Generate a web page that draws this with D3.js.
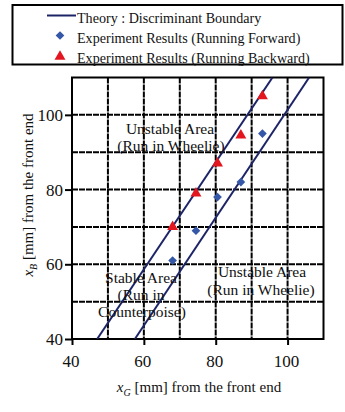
<!DOCTYPE html>
<html><head><meta charset="utf-8">
<script src="https://cdn.jsdelivr.net/npm/d3@7"></script>
<style>
html,body{margin:0;padding:0;background:#fff;}
text{font-family:"Liberation Serif","Times New Roman",serif;fill:#111;}
</style></head>
<body><svg id="c" width="345" height="412"></svg>
<script>
// ---- data ----
const forwardX = [68, 74.5, 80.5, 87, 93];
const forwardY = [61, 69, 78, 82, 95];
const backwardX = [68, 74.5, 80.5, 87, 93];
const backwardY = [70, 79, 87, 94.5, 105];
const boundaryUpperX = [47, 95.8];
const boundaryUpperY = [40, 110];
const boundaryLowerX = [57.5, 106];
const boundaryLowerY = [40, 110];
const xTicks = [40, 60, 80, 100];
const yTicks = [40, 60, 80, 100];
const gridX = [50, 60, 70, 80, 90, 100];
const gridY = [50, 60, 70, 80, 90, 100];
const legendLabels = ["Theory : Discriminant  Boundary", "Experiment Results (Running Forward)", "Experiment Results (Running Backward)"];

const svg = d3.select("#c");
const L = 72, R = 323.5, T = 77.5, B = 339;
const x = d3.scaleLinear().domain([40, 110]).range([L, R]);
const y = d3.scaleLinear().domain([40, 110]).range([B, T]);

const navy = "#1c2467", blue = "#3557a8", red = "#e3161f";

svg.append("defs").append("clipPath").attr("id", "clip")
  .append("rect").attr("x", L).attr("y", T).attr("width", R - L).attr("height", B - T);

// grid
const g = svg.append("g");
g.selectAll(".gx").data(gridX).join("line")
  .attr("x1", d => x(d)).attr("x2", d => x(d)).attr("y1", T).attr("y2", B)
  .attr("stroke", "#000").attr("stroke-width", 2).attr("stroke-dasharray", "6,1");
g.selectAll(".gy").data(gridY).join("line")
  .attr("y1", d => y(d)).attr("y2", d => y(d)).attr("x1", L).attr("x2", R)
  .attr("stroke", "#000").attr("stroke-width", 2).attr("stroke-dasharray", "6,1");

// axes
const xa = svg.append("g").attr("transform", `translate(0,${B})`)
  .call(d3.axisBottom(x).tickValues(xTicks).tickSize(6).tickPadding(10));
const ya = svg.append("g").attr("transform", `translate(${L},0)`)
  .call(d3.axisLeft(y).tickValues(yTicks).tickSize(7).tickPadding(2));
[xa, ya].forEach(a => {
  a.select(".domain").remove();
  a.selectAll(".tick line").attr("stroke", "#000").attr("stroke-width", 2);
  a.selectAll(".tick text").attr("font-family", "Liberation Serif").attr("font-size", 17).attr("fill", "#111");
});
xa.selectAll(".tick text").attr("dx", -1.5);

// border
svg.append("rect").attr("x", L).attr("y", T).attr("width", R - L).attr("height", B - T)
  .attr("fill", "none").attr("stroke", "#000").attr("stroke-width", 2);

// boundary lines
const lineGen = d3.line().x(d => x(d[0])).y(d => y(d[1]));
const cl = svg.append("g").attr("clip-path", "url(#clip)");
[[boundaryUpperX, boundaryUpperY], [boundaryLowerX, boundaryLowerY]].forEach(([xs, ys]) => {
  cl.append("path").datum(xs.map((v, i) => [v, ys[i]]))
    .attr("d", lineGen).attr("fill", "none").attr("stroke", navy).attr("stroke-width", 2);
});

// region labels
const labels = [
  {t: "Unstable Area", cx: 170, cy: 129},
  {t: "(Run in Wheelie)", cx: 171, cy: 146},
  {t: "Stable Area", cx: 141, cy: 278},
  {t: "(Run in", cx: 141, cy: 295},
  {t: "Counterpoise)", cx: 142, cy: 312},
  {t: "Unstable Area", cx: 262, cy: 272},
  {t: "(Run in Wheelie)", cx: 261, cy: 290}
];
svg.selectAll(".rl").data(labels).join("text")
  .attr("x", d => d.cx).attr("y", d => d.cy).attr("dy", "0.35em")
  .attr("text-anchor", "middle").attr("font-size", 15.5).text(d => d.t);

// markers
const tri = d3.symbol().type(d3.symbolTriangle).size(52);
const dia = d3.symbol().type(d3.symbolSquare).size(38);
svg.selectAll(".fw").data(forwardX.map((v, i) => [v, forwardY[i]])).join("path")
  .attr("d", dia)
  .attr("transform", d => `translate(${x(d[0])},${y(d[1])}) rotate(45)`).attr("fill", blue);
svg.selectAll(".bw").data(backwardX.map((v, i) => [v, backwardY[i]])).join("path")
  .attr("d", tri).attr("transform", d => `translate(${x(d[0])},${y(d[1])})`).attr("fill", red);

// axis titles
const xt = svg.append("text").attr("x", 199).attr("y", 387).attr("dy", "0.35em")
  .attr("text-anchor", "middle").attr("font-size", 15);
xt.append("tspan").attr("font-style", "italic").text("x");
xt.append("tspan").attr("font-style", "italic").attr("font-size", 10).attr("dy", 4).text("G");
xt.append("tspan").attr("dy", -4).text(" [mm] from the front end");

const yt = svg.append("text").attr("transform", "translate(28,195) rotate(-90)").attr("dy", "0.35em")
  .attr("text-anchor", "middle").attr("font-size", 15);
yt.append("tspan").attr("font-style", "italic").text("x");
yt.append("tspan").attr("font-style", "italic").attr("font-size", 10).attr("dy", 4).text("B");
yt.append("tspan").attr("dy", -4).text(" [mm] from the front end");

// legend
const lg = svg.append("g");
lg.append("rect").attr("x", 12.5).attr("y", 5).attr("width", 330).attr("height", 59.5)
  .attr("fill", "#fff").attr("stroke", "#000").attr("stroke-width", 2);
lg.append("line").attr("x1", 47).attr("x2", 76).attr("y1", 15.5).attr("y2", 15.5)
  .attr("stroke", navy).attr("stroke-width", 2);
lg.append("path").attr("d", dia)
  .attr("transform", "translate(60,35.5) rotate(45)").attr("fill", blue);
lg.append("path").attr("d", tri).attr("transform", "translate(60,56.5)").attr("fill", red);
lg.selectAll(".lt").data(legendLabels).join("text")
  .attr("transform", (d, i) => `translate(77,${17.5 + i * 20}) scale(0.91,1)`).attr("dy", "0.35em")
  .attr("font-size", 15.5).text(d => d);
</script></body></html>
